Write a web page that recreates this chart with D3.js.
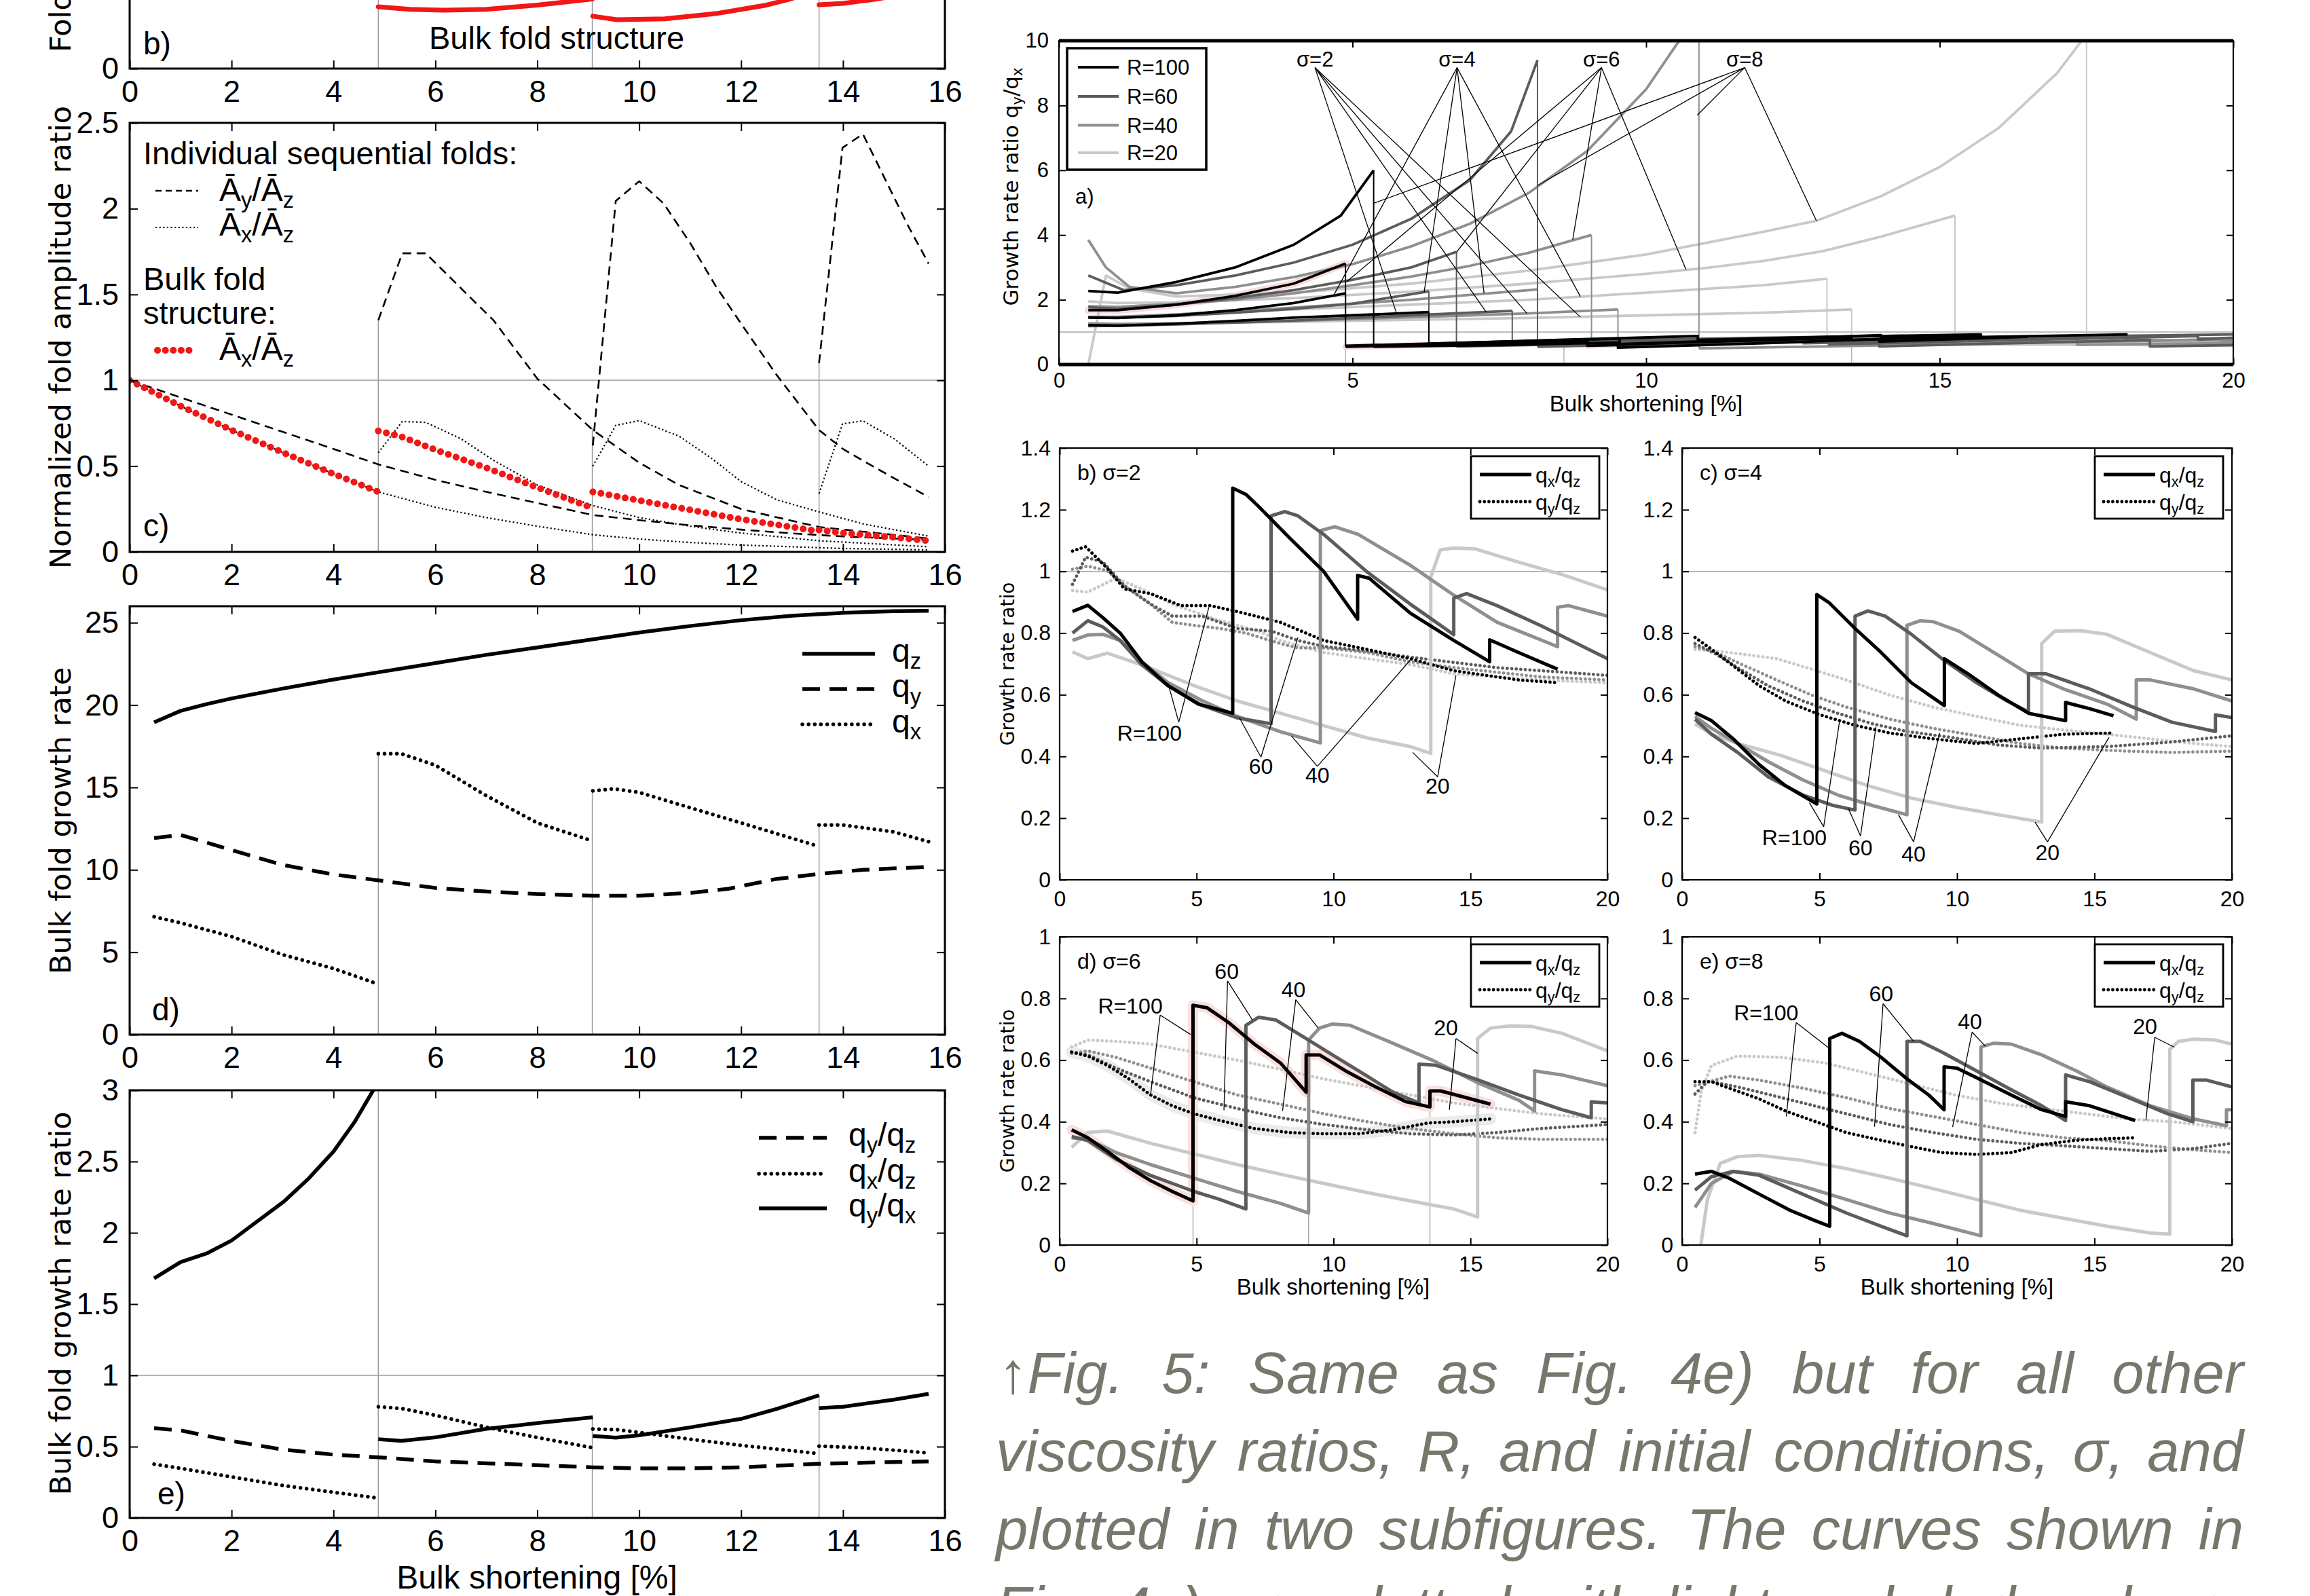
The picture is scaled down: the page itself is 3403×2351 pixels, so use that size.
<!DOCTYPE html>
<html>
<head>
<meta charset="utf-8">
<script src="https://cdn.jsdelivr.net/npm/d3@7"></script>
<style>
body { margin: 0; background: #fff; }
svg { display: block; }
</style>
</head>
<body>
<svg id="fig" width="3403" height="2351"></svg>
<script>
// ---------------- left column: sequential folds ----------------
var xTicksLeft = [0, 2, 4, 6, 8, 10, 12, 14, 16];
var foldX = [4.88, 9.08, 13.53];

// b) bulk fold structure (only the bottom of the panel is visible)
var bRed = [
  [[4.88,0.36],[5.5,0.345],[6.18,0.34],[7,0.345],[8,0.37],[9.08,0.405]],
  [[9.09,0.305],[9.56,0.285],[10.5,0.29],[11.5,0.32],[12.5,0.37],[12.96,0.405],[13.53,0.46]],
  [[13.53,0.372],[14,0.38],[14.66,0.405],[15.68,0.46]]
];

// c) normalized fold amplitude ratio
var cTicksY = [0, 0.5, 1, 1.5, 2, 2.5];
var cAyAz = [
  [[0,1],[1,0.9],[2,0.8],[3,0.7],[4,0.6],[4.88,0.51],[6,0.42],[7,0.35],[8,0.285],[9.09,0.215],[10,0.185],[11,0.155],[12,0.13],[13,0.108],[14,0.09],[15,0.078],[15.68,0.07]],
  [[4.88,1.35],[5.35,1.74],[5.81,1.74],[6.66,1.49],[7.14,1.35],[8,1.01],[9.09,0.71],[10,0.52],[10.78,0.39],[12,0.25],[13.53,0.145],[15.68,0.078]],
  [[9.09,0.62],[9.54,2.045],[10,2.16],[10.48,2.03],[11,1.8],[11.5,1.55],[12,1.33],[12.7,1.03],[13.53,0.71],[14,0.6],[14.4,0.53],[15,0.43],[15.68,0.32]],
  [[13.53,1.1],[13.99,2.355],[14.39,2.435],[14.78,2.2],[15.26,1.91],[15.68,1.68]]
];
var cAxAz = [
  [[0,1],[1,0.85],[2,0.71],[3,0.58],[4,0.455],[4.88,0.35],[6,0.26],[7,0.2],[8,0.15],[9.09,0.1],[10,0.075],[11,0.055],[12,0.04],[13,0.03],[14,0.02],[15.68,0.012]],
  [[4.88,0.578],[5.35,0.76],[5.81,0.755],[6.5,0.66],[7.14,0.534],[8,0.39],[9.09,0.27],[10,0.2],[11,0.15],[12,0.11],[13.53,0.065],[15.68,0.03]],
  [[9.09,0.5],[9.54,0.737],[10,0.765],[10.78,0.675],[11.4,0.55],[12,0.41],[12.7,0.304],[13.53,0.233],[14.4,0.163],[15.68,0.092]],
  [[13.53,0.34],[13.99,0.746],[14.39,0.764],[15,0.66],[15.68,0.5]]
];
var cBulkAxAz = [
  [[0,1],[1,0.85],[2,0.71],[3,0.58],[4,0.455],[4.88,0.35]],
  [[4.88,0.705],[5.3,0.675],[6,0.595],[7,0.49],[8,0.375],[9.09,0.255]],
  [[9.09,0.35],[10,0.3],[11,0.245],[12,0.19],[13,0.145],[13.53,0.12]],
  [[13.53,0.128],[14,0.11],[15,0.085],[15.68,0.065]]
];
var cGuideTop = [1.35, 0.72, 1.1];

// d) bulk fold growth rate
var dTicksY = [0, 5, 10, 15, 20, 25];
var dQz = [[0.48,18.95],[1,19.65],[1.5,20.05],[2,20.4],[3,21.0],[4,21.55],[5,22.05],[6,22.55],[7,23.05],[8,23.5],[9,23.95],[10,24.4],[11,24.8],[12,25.15],[13,25.42],[14,25.6],[15,25.7],[15.68,25.72]];
var dQy = [[0.48,11.93],[1,12.12],[2,11.2],[3,10.3],[4,9.72],[4.88,9.36],[6,8.9],[7,8.68],[8,8.53],[9.09,8.43],[10,8.43],[11,8.6],[11.75,8.85],[12.7,9.45],[13.53,9.75],[14.4,10.0],[15.68,10.18]];
var dQx = [
  [[0.48,7.15],[1,6.78],[2,5.95],[3,4.85],[4,4.01],[4.88,3.06]],
  [[4.88,17.05],[5.33,17.05],[6,16.35],[7,14.5],[8,12.85],[9.09,11.75]],
  [[9.09,14.79],[9.5,14.92],[10,14.7],[11,13.77],[12,12.85],[13.53,11.42]],
  [[13.53,12.72],[14,12.72],[15,12.3],[15.68,11.71]]
];
var dGuideTop = [17.05, 14.79, 12.72];

// e) bulk fold growth rate ratio
var eTicksY = [0, 0.5, 1, 1.5, 2, 2.5, 3];
var eQyQx = [
  [[0.48,1.68],[1,1.795],[1.51,1.855],[2,1.946],[2.54,2.09],[3.03,2.22],[3.51,2.38],[4,2.57],[4.42,2.78],[4.78,3.0],[4.88,3.06]],
  [[4.88,0.552],[5.33,0.54],[6,0.565],[7,0.625],[8,0.665],[9.09,0.706]],
  [[9.09,0.575],[9.54,0.563],[10,0.58],[11,0.635],[12,0.695],[12.7,0.765],[13.53,0.86]],
  [[13.53,0.77],[14,0.78],[15,0.83],[15.68,0.87]]
];
var eQyQz = [[0.48,0.63],[1,0.614],[2,0.54],[3,0.48],[4,0.444],[4.88,0.425],[6,0.397],[8,0.37],[9.09,0.355],[10,0.348],[11,0.348],[12,0.355],[13.53,0.38],[15.68,0.397]];
var eQxQz = [
  [[0.48,0.377],[1,0.348],[2,0.288],[3,0.228],[4,0.18],[4.88,0.139]],
  [[4.88,0.78],[5.33,0.768],[6,0.72],[7,0.636],[8,0.564],[9.09,0.492]],
  [[9.09,0.624],[9.57,0.619],[10,0.6],[11,0.552],[12,0.509],[13.53,0.451]],
  [[13.53,0.504],[14.4,0.492],[15.68,0.456]]
];
var eGuideTop = [3, 0.706, 0.86];

// ---------------- right column: all viscosity ratios R and sigma ----------------
var rValues = [100, 60, 40, 20];
var rColors = ["#000000", "#5c5c5c", "#8f8f8f", "#c9c9c9"];
var xTicksRight = [0, 5, 10, 15, 20];

// a) q_y/q_x, one curve per (sigma, R): before and after the first jump
var aTicksY = [0, 2, 4, 6, 8, 10];
var aCurves = [
  {s:2, R:20,  pre:[[0.5,1.27],[1,1.26],[2,1.28],[4,1.32],[6,1.38],[8,1.44],[10,1.52],[12,1.6],[13.5,1.7]], post:[[13.5,0.71],[14,0.63],[16,0.64],[18,0.67],[20,0.7]]},
  {s:4, R:20,  pre:[[0.5,1.48],[1,1.48],[2,1.55],[4,1.7],[6,1.85],[8,2.0],[10,2.22],[12,2.45],[13.08,2.65]], post:[[13.08,0.64],[13.6,0.6],[16,0.62],[20,0.66]]},
  {s:6, R:20,  pre:[[0.5,1.95],[1,1.9],[2,1.92],[4,2.05],[6,2.25],[8,2.5],[10,2.8],[11,2.98],[12,3.2],[13,3.5],[14,3.95],[15.26,4.6]], post:[[15.26,0.63],[17,0.61],[20,0.6]]},
  {s:8, R:20,  pre:[[0.5,0],[0.8,2.75],[1.2,2.35],[2,2.1],[4,2.22],[6,2.5],[8,2.9],[10,3.4],[12,4.1],[12.9,4.44],[14,5.2],[15,6.1],[16,7.3],[17,9.0],[17.5,10.2]], post:[[17.5,0.64],[18.5,0.6],[20,0.58]]},
  {s:2, R:40,  pre:[[0.5,1.27],[1,1.25],[2,1.27],[3,1.3],[4,1.35],[5,1.4],[6,1.46],[7,1.52],[8,1.58],[9.52,1.7]], post:[[9.52,0.67],[14,0.78],[18.18,0.87],[18.18,0.75],[20,0.76]]},
  {s:4, R:40,  pre:[[0.5,1.47],[1,1.47],[2,1.55],[3,1.65],[4,1.76],[5,1.88],[6,2.0],[7,2.15],[8.15,2.32]], post:[[8.15,0.56],[12,0.7],[16.55,0.85],[16.55,0.68],[20,0.77]]},
  {s:6, R:40,  pre:[[0.5,1.8],[1,1.78],[2,1.88],[3,2.0],[4,2.2],[5,2.45],[6,2.72],[7,3.05],[8,3.45],[9.07,4.0]], post:[[9.07,0.58],[13,0.7],[17.34,0.81],[17.34,0.61],[20,0.66]]},
  {s:8, R:40,  pre:[[0.5,3.85],[0.8,3.0],[1.2,2.4],[2,2.2],[3,2.4],[4,2.7],[5,3.1],[6,3.65],[7,4.35],[8,5.3],[9,6.6],[10,8.5],[10.6,10.1],[10.9,11]], post:[[10.9,0.5],[13,0.56],[15,0.62],[17,0.7],[19.8,0.78],[19.8,0.69],[20,0.69]]},
  {s:2, R:60,  pre:[[0.5,1.19],[1,1.2],[2,1.24],[3,1.3],[4,1.36],[5,1.44],[6,1.52],[7.72,1.66]], post:[[7.72,0.68],[11,0.8],[14.39,0.89],[14.39,0.77],[17,0.86],[20,0.93]]},
  {s:4, R:60,  pre:[[0.5,1.46],[1,1.45],[2,1.5],[3,1.6],[4,1.72],[5,1.88],[6.3,2.26]], post:[[6.3,0.6],[9.5,0.7],[12.68,0.81],[12.68,0.66],[16,0.78],[19.4,0.89],[19.4,0.8],[20,0.82]]},
  {s:6, R:60,  pre:[[0.5,1.77],[1,1.72],[2,1.85],[3,2.05],[4,2.3],[5,2.62],[6,3.0],[6.77,3.48]], post:[[6.77,0.56],[10,0.67],[13.12,0.79],[13.12,0.62],[16,0.74],[19.4,0.88],[19.4,0.77],[20,0.83]]},
  {s:8, R:60,  pre:[[0.5,2.75],[1.1,2.3],[2,2.45],[3,2.75],[4,3.15],[5,3.7],[6,4.5],[7,5.7],[7.7,7.2],[8.15,9.4]], post:[[8.15,0.55],[11,0.66],[13.97,0.78],[13.97,0.56],[16,0.65],[18.58,0.76],[18.58,0.56],[20,0.6]]},
  {s:2, R:100, pre:[[0.5,1.22],[1,1.2],[2,1.26],[3,1.35],[4,1.45],[5,1.52],[6.3,1.62]], post:[[6.3,0.64],[8.5,0.76],[10.88,0.88],[10.88,0.76],[13,0.85],[15.7,0.93],[15.7,0.85],[18.2,0.93]]},
  {s:4, R:100, pre:[[0.5,1.45],[1,1.44],[2,1.52],[3,1.68],[4,1.9],[4.88,2.2]], post:[[4.88,0.58],[7,0.68],[9.55,0.8],[9.55,0.63],[12,0.78],[14,0.91],[14,0.82],[15.7,0.89]]},
  {s:6, R:100, pre:[[0.5,1.68],[1,1.68],[2,1.85],[3,2.12],[4,2.5],[4.88,3.12]], post:[[4.88,0.55],[7,0.63],[9.0,0.72],[9.0,0.58],[11,0.7],[13.5,0.83],[13.5,0.76],[15.7,0.87]]},
  {s:8, R:100, pre:[[0.5,2.27],[1,2.22],[2,2.55],[3,3.0],[4,3.7],[4.8,4.6],[5.36,6.0]], post:[[5.36,0.55],[7.5,0.6],[9.52,0.68],[9.52,0.52],[12,0.66],[13.97,0.79],[13.97,0.71],[16.5,0.86]]}
];
var aGuides = [[4.88,0.55],[8.6,0.62],[13.5,0.6]];
var aSigmaNotes = [
  {text:"σ=2", fan:[4.36,9.17], to:[[5.75,1.58],[7.28,1.61],[7.97,1.58],[8.88,1.47]]},
  {text:"σ=4", fan:[6.78,9.17], to:[[4.68,2.14],[6.22,2.24],[7.24,2.2],[8.88,2.1]]},
  {text:"σ=6", fan:[9.24,9.17], to:[[4.9,2.56],[6.77,3.47],[8.75,3.86],[10.68,2.93]]},
  {text:"σ=8", fan:[11.68,9.17], to:[[5.36,4.98],[8.15,5.53],[10.87,7.7],[12.9,4.44]]}
];

// b) sigma = 2 ; arrays in the order of rValues
var bTicksY = [0, 0.2, 0.4, 0.6, 0.8, 1, 1.2, 1.4];
var bSolid = [
  [[0.47,0.87],[1.03,0.89],[1.58,0.85],[2.21,0.8],[3.0,0.707],[3.95,0.63],[5.06,0.57],[6.32,0.54],[6.32,1.27],[6.8,1.25],[7.27,1.21],[8.38,1.11],[9.64,1.0],[10.88,0.845],[10.88,0.987],[11.3,0.978],[12.8,0.865],[14.39,0.776],[15.7,0.707],[15.7,0.778],[16.76,0.737],[18.18,0.683]],
  [[0.47,0.8],[1.03,0.84],[1.58,0.82],[2.21,0.776],[3.0,0.697],[3.95,0.63],[5.22,0.565],[6.48,0.525],[7.72,0.506],[7.72,1.18],[8.22,1.194],[8.7,1.18],[9.64,1.12],[11.2,1.0],[12.8,0.894],[14.39,0.795],[14.39,0.914],[14.86,0.928],[15.97,0.889],[17.55,0.825],[20,0.717]],
  [[0.47,0.776],[1.03,0.794],[1.58,0.796],[2.21,0.776],[3.0,0.707],[3.95,0.64],[5.22,0.58],[6.48,0.53],[8.06,0.48],[9.52,0.444],[9.52,1.132],[10.04,1.145],[10.9,1.12],[12.8,1.02],[14.39,0.923],[15.97,0.835],[18.18,0.756],[18.18,0.884],[18.58,0.889],[20,0.855]],
  [[0.47,0.739],[1.03,0.717],[1.74,0.735],[3.0,0.697],[4.9,0.63],[6.48,0.58],[8.06,0.54],[9.64,0.5],[11.23,0.46],[12.8,0.432],[13.55,0.41],[13.55,0.982],[13.9,1.07],[14.39,1.076],[15.18,1.073],[16.76,1.03],[18.34,0.99],[20,0.94]]
];
var bDotted = [
  [[0.47,1.066],[0.95,1.08],[1.74,1.01],[2.37,0.943],[3.32,0.928],[4.43,0.889],[5.5,0.889],[6.48,0.87],[8.06,0.835],[9.64,0.776],[11.23,0.747],[12.8,0.717],[14.39,0.678],[16.76,0.648],[18.18,0.639]],
  [[0.47,0.958],[0.95,1.046],[1.58,1.03],[2.37,0.953],[3.32,0.894],[4.11,0.855],[5.22,0.855],[6.48,0.815],[7.75,0.806],[8.7,0.776],[9.64,0.757],[11.23,0.742],[12.8,0.722],[15.97,0.688],[20,0.663]],
  [[0.47,1.007],[1.03,1.017],[1.74,1.002],[2.37,0.953],[3.32,0.894],[4.11,0.835],[4.9,0.825],[5.85,0.815],[6.8,0.8],[8.06,0.766],[8.7,0.752],[9.64,0.752],[11.23,0.737],[12.8,0.707],[14.39,0.688],[17.55,0.658],[20,0.648]],
  [[0.47,0.938],[1.03,0.933],[2.06,0.978],[3.0,0.943],[4.11,0.894],[5.69,0.845],[7.27,0.806],[8.06,0.776],[9.64,0.737],[11.23,0.717],[12.8,0.698],[14.39,0.668],[17.55,0.648],[20,0.639]]
];
var bNotes = [
  {text:"R=100", anchor:"end", pos:[4.46,0.452], fan:[4.35,0.511], to:[[3.95,0.639],[5.45,0.884]]},
  {text:"60", anchor:"middle", pos:[7.35,0.344], fan:[7.35,0.398], to:[[6.56,0.526],[8.7,0.786]]},
  {text:"40", anchor:"middle", pos:[9.41,0.314], fan:[9.41,0.368], to:[[8.46,0.467],[12.8,0.712]]},
  {text:"20", anchor:"middle", pos:[13.8,0.28], fan:[13.8,0.334], to:[[12.89,0.413],[14.47,0.663]]}
];

// c) sigma = 4
var cSolid = [
  [[0.47,0.542],[1.07,0.516],[1.86,0.457],[2.81,0.373],[3.76,0.305],[4.9,0.246],[4.9,0.925],[5.34,0.899],[6.29,0.815],[7.24,0.737],[8.34,0.639],[9.54,0.565],[9.54,0.717],[10.4,0.668],[11.5,0.599],[12.6,0.54],[13.95,0.516],[13.95,0.575],[14.82,0.555],[15.69,0.532]],
  [[0.47,0.521],[1.07,0.472],[2.02,0.413],[3.13,0.334],[4.39,0.275],[5.5,0.241],[6.29,0.226],[6.29,0.855],[6.76,0.872],[7.39,0.855],[8.34,0.796],[9.45,0.717],[10.71,0.639],[11.82,0.58],[12.6,0.545],[12.6,0.668],[13.24,0.668],[14.82,0.619],[16.4,0.56],[17.82,0.511],[19.4,0.481],[19.4,0.535],[20,0.526]],
  [[0.47,0.53],[1.07,0.491],[2.02,0.442],[3.13,0.383],[4.39,0.324],[5.66,0.275],[6.92,0.241],[8.18,0.211],[8.18,0.825],[8.66,0.84],[9.13,0.837],[10.08,0.806],[11.34,0.737],[12.6,0.668],[13.87,0.619],[15.45,0.57],[16.52,0.521],[16.52,0.648],[17.03,0.648],[18.61,0.619],[20,0.58]],
  [[0.47,0.506],[1.07,0.472],[2.02,0.442],[3.6,0.403],[5.18,0.354],[6.76,0.305],[8.34,0.265],[9.92,0.236],[11.5,0.211],[13.08,0.187],[13.08,0.766],[13.55,0.806],[14.5,0.808],[15.45,0.796],[17.03,0.737],[18.61,0.678],[20,0.648]]
];
var cDotted = [
  [[0.47,0.786],[1.23,0.737],[2.02,0.683],[2.81,0.629],[3.76,0.58],[5.02,0.535],[6.29,0.501],[7.55,0.476],[9.13,0.457],[10.71,0.442],[12.29,0.457],[13.87,0.472],[15.69,0.476]],
  [[0.47,0.766],[1.23,0.732],[2.02,0.688],[3.13,0.629],[4.39,0.58],[5.66,0.54],[6.92,0.506],[8.18,0.481],[9.76,0.462],[11.5,0.437],[13.08,0.427],[15.45,0.432],[17.82,0.447],[20,0.467]],
  [[0.47,0.756],[1.23,0.737],[2.18,0.698],[3.44,0.648],[4.71,0.599],[5.97,0.56],[7.55,0.521],[9.13,0.491],[10.71,0.467],[12.29,0.442],[13.87,0.427],[16.24,0.417],[17.82,0.413],[20,0.417]],
  [[0.47,0.747],[1.23,0.742],[2.18,0.732],[3.44,0.717],[4.71,0.683],[5.97,0.648],[7.55,0.599],[9.13,0.56],[10.71,0.53],[12.29,0.501],[13.87,0.486],[15.45,0.472],[17.03,0.457],[18.61,0.442],[20,0.432]]
];
var cNotes = [
  {text:"R=100", anchor:"end", pos:[5.26,0.113], fan:[5.15,0.172], to:[[4.63,0.25],[5.73,0.516]]},
  {text:"60", anchor:"middle", pos:[6.49,0.079], fan:[6.49,0.142], to:[[6.05,0.231],[7.05,0.496]]},
  {text:"40", anchor:"middle", pos:[8.42,0.059], fan:[8.42,0.123], to:[[7.87,0.211],[9.37,0.476]]},
  {text:"20", anchor:"middle", pos:[13.29,0.064], fan:[13.29,0.123], to:[[12.84,0.187],[15.53,0.462]]}
];

// d) sigma = 6
var dTicksRight = [0, 0.2, 0.4, 0.6, 0.8, 1];
var dSolid = [
  [[0.44,0.374],[1.03,0.348],[1.74,0.304],[2.53,0.252],[3.32,0.209],[4.11,0.174],[4.87,0.143],[4.87,0.778],[5.38,0.77],[6.17,0.722],[7.11,0.652],[8.06,0.591],[9.0,0.496],[9.0,0.617],[9.49,0.617],[10.44,0.565],[11.54,0.513],[12.65,0.465],[13.52,0.448],[13.52,0.5],[13.91,0.5],[14.85,0.478],[15.73,0.457]],
  [[0.44,0.352],[1.03,0.339],[2.06,0.278],[3.32,0.226],[4.9,0.174],[5.85,0.148],[6.8,0.117],[6.8,0.713],[7.27,0.739],[7.9,0.73],[8.85,0.678],[9.96,0.617],[11.23,0.548],[12.17,0.496],[13.12,0.461],[13.12,0.587],[13.75,0.583],[15.18,0.539],[16.76,0.487],[18.34,0.439],[19.41,0.413],[19.41,0.465],[20,0.461]],
  [[0.44,0.348],[1.03,0.343],[2.06,0.3],[3.32,0.261],[4.9,0.217],[6.48,0.174],[8.06,0.135],[9.09,0.104],[9.09,0.665],[9.49,0.704],[9.96,0.717],[10.6,0.713],[12.0,0.661],[13.6,0.6],[15.18,0.53],[16.76,0.47],[17.34,0.435],[17.34,0.565],[18.34,0.552],[20,0.517]],
  [[0.44,0.317],[1.03,0.365],[1.74,0.37],[3.32,0.33],[4.9,0.296],[6.48,0.261],[8.06,0.23],[9.64,0.2],[11.23,0.17],[12.8,0.143],[14.39,0.117],[15.26,0.091],[15.26,0.67],[15.73,0.704],[16.45,0.711],[17.23,0.709],[18.34,0.687],[20,0.63]]
];
var dDotted = [
  [[0.44,0.626],[1.03,0.613],[1.74,0.583],[2.53,0.539],[3.32,0.487],[4.11,0.452],[4.9,0.426],[5.85,0.404],[7.11,0.378],[8.38,0.365],[9.64,0.361],[10.91,0.361],[12.17,0.374],[13.44,0.396],[14.39,0.4],[15.73,0.409]],
  [[0.44,0.626],[1.03,0.617],[2.06,0.574],[3.32,0.53],[4.9,0.478],[6.48,0.443],[8.06,0.413],[9.64,0.391],[11.23,0.374],[12.8,0.361],[14.39,0.357],[15.97,0.365],[17.55,0.378],[20,0.391]],
  [[0.44,0.622],[1.03,0.63],[2.06,0.609],[3.32,0.574],[4.9,0.53],[6.48,0.487],[8.06,0.457],[9.64,0.426],[11.23,0.4],[12.8,0.378],[14.39,0.361],[15.97,0.348],[17.55,0.343],[20,0.343]],
  [[0.44,0.643],[1.03,0.665],[2.06,0.661],[3.32,0.652],[4.9,0.626],[6.48,0.6],[8.06,0.57],[9.64,0.539],[11.23,0.513],[12.8,0.487],[14.39,0.461],[15.97,0.443],[17.55,0.426],[20,0.409]]
];
var dGuides = [[4.87,0.143],[9.09,0.104],[13.52,0.448]];
var dNotes = [
  {text:"R=100", anchor:"end", pos:[3.76,0.752], fan:[3.67,0.746], to:[[4.78,0.683],[3.32,0.487]]},
  {text:"60", anchor:"middle", pos:[6.1,0.863], fan:[6.13,0.857], to:[[7.04,0.73],[6.0,0.437]]},
  {text:"40", anchor:"middle", pos:[8.54,0.804], fan:[8.62,0.796], to:[[9.44,0.704],[8.14,0.435]]},
  {text:"20", anchor:"middle", pos:[14.1,0.68], fan:[14.47,0.67], to:[[15.26,0.622],[14.23,0.439]]}
];

// e) sigma = 8
var eSolid = [
  [[0.47,0.23],[1.07,0.239],[1.71,0.217],[2.81,0.165],[3.92,0.113],[4.87,0.078],[5.37,0.061],[5.37,0.67],[5.81,0.687],[6.45,0.661],[7.24,0.609],[8.18,0.539],[8.97,0.487],[9.53,0.439],[9.53,0.578],[10.0,0.574],[10.71,0.543],[11.97,0.487],[13.08,0.439],[13.95,0.417],[13.95,0.465],[14.82,0.452],[16.48,0.404]],
  [[0.47,0.178],[1.07,0.222],[1.86,0.239],[2.81,0.226],[4.39,0.165],[5.97,0.104],[7.24,0.061],[8.18,0.03],[8.18,0.661],[8.66,0.661],[9.45,0.626],[10.71,0.565],[11.97,0.504],[13.08,0.452],[13.95,0.404],[13.95,0.552],[14.82,0.53],[16.24,0.478],[17.66,0.426],[18.58,0.4],[18.58,0.535],[19.08,0.535],[20,0.513]],
  [[0.47,0.122],[1.07,0.2],[1.86,0.239],[2.81,0.23],[4.39,0.191],[5.97,0.148],[7.55,0.104],[9.13,0.07],[10.87,0.03],[10.87,0.643],[11.34,0.655],[11.97,0.652],[13.08,0.617],[14.34,0.565],[15.45,0.513],[17.03,0.452],[18.61,0.409],[19.8,0.387],[19.8,0.439],[20,0.439]],
  [[0.68,0],[0.92,0.148],[1.39,0.265],[2.02,0.287],[2.81,0.291],[4.39,0.274],[5.97,0.248],[7.55,0.217],[9.13,0.183],[10.71,0.148],[12.29,0.113],[13.87,0.087],[15.45,0.061],[17.03,0.039],[17.74,0.035],[17.74,0.635],[18.06,0.661],[18.61,0.668],[19.4,0.665],[20,0.652]]
];
var eDotted = [
  [[0.47,0.53],[1.07,0.53],[1.86,0.504],[2.81,0.474],[3.76,0.435],[4.87,0.4],[5.97,0.365],[7.08,0.343],[8.18,0.322],[9.45,0.3],[10.71,0.294],[11.97,0.3],[13.08,0.326],[14.34,0.34],[15.45,0.345],[16.48,0.348]],
  [[0.47,0.49],[0.92,0.53],[1.07,0.53],[2.02,0.513],[2.81,0.496],[4.39,0.461],[5.97,0.426],[7.55,0.391],[9.13,0.365],[10.71,0.343],[12.29,0.33],[13.87,0.322],[15.45,0.313],[17.03,0.304],[18.61,0.313],[20,0.33]],
  [[0.47,0.517],[1.71,0.548],[2.81,0.535],[4.39,0.509],[5.97,0.478],[7.55,0.443],[9.13,0.417],[10.71,0.391],[12.29,0.365],[13.87,0.348],[15.45,0.339],[17.03,0.322],[18.61,0.309],[20,0.3]],
  [[0.47,0.365],[0.7,0.5],[1.07,0.583],[2.02,0.613],[3.6,0.609],[5.18,0.591],[6.76,0.557],[8.34,0.522],[9.92,0.487],[11.5,0.461],[13.08,0.443],[14.66,0.426],[16.24,0.409],[17.82,0.4],[20,0.378]]
];
var eNotes = [
  {text:"R=100", anchor:"end", pos:[4.23,0.73], fan:[4.15,0.722], to:[[5.37,0.637],[3.79,0.417]]},
  {text:"60", anchor:"middle", pos:[7.24,0.791], fan:[7.31,0.783], to:[[8.42,0.661],[7.0,0.384]]},
  {text:"40", anchor:"middle", pos:[10.47,0.7], fan:[10.55,0.691], to:[[11.03,0.645],[9.84,0.383]]},
  {text:"20", anchor:"middle", pos:[16.84,0.685], fan:[17.19,0.674], to:[[17.9,0.642],[16.87,0.404]]}
];

var captionLines = [
  "↑Fig. 5: Same as Fig. 4e) but for all other",
  "viscosity ratios, R, and initial conditions, σ, and",
  "plotted in two subfigures. The curves shown in",
  "Fig. 4e) are plotted with light and dark colours"
];

// ---------------- drawing ----------------
var FONT = '"Liberation Sans", Arial, sans-serif';
var TFONT = '"DejaVu Sans", Verdana, sans-serif';
var svg = d3.select("#fig");
var clipCount = 0;

function makePanel(o) {
  var x = d3.scaleLinear().domain(o.xd).range([o.x0, o.x1]);
  var y = d3.scaleLinear().domain(o.yd).range([o.y1, o.y0]);
  var g = svg.append("g");
  var id = "clip" + (clipCount++);
  g.append("clipPath").attr("id", id).append("rect")
    .attr("x", o.x0).attr("y", o.y0).attr("width", o.x1 - o.x0).attr("height", o.y1 - o.y0);
  var plot = g.append("g").attr("clip-path", "url(#" + id + ")");
  var axes = g.append("g");
  var fmt = d3.format("~g");
  var style = function(a) {
    a.select(".domain").remove();
    a.selectAll("line").attr("stroke", "#000").attr("stroke-width", o.tw);
    a.selectAll("text").attr("font-size", o.fs).attr("fill", "#000").attr("font-family", FONT);
  };
  axes.append("g").attr("transform", "translate(0," + o.y1 + ")")
    .call(d3.axisBottom(x).tickValues(o.xt).tickSizeInner(-o.tl).tickSizeOuter(0).tickPadding(o.xp).tickFormat(fmt)).call(style);
  axes.append("g").attr("transform", "translate(0," + o.y0 + ")")
    .call(d3.axisTop(x).tickValues(o.xt).tickSizeInner(-o.tl).tickSizeOuter(0).tickFormat("")).call(style);
  axes.append("g").attr("transform", "translate(" + o.x0 + ",0)")
    .call(d3.axisLeft(y).tickValues(o.yt).tickSizeInner(-o.tl).tickSizeOuter(0).tickPadding(o.yp).tickFormat(fmt)).call(style);
  axes.append("g").attr("transform", "translate(" + o.x1 + ",0)")
    .call(d3.axisRight(y).tickValues(o.yt).tickSizeInner(-o.tl).tickSizeOuter(0).tickFormat("")).call(style);
  axes.append("rect").attr("x", o.x0).attr("y", o.y0).attr("width", o.x1 - o.x0).attr("height", o.y1 - o.y0)
    .attr("fill", "none").attr("stroke", "#000").attr("stroke-width", o.fw);
  var line = d3.line().x(function(d) { return x(d[0]); }).y(function(d) { return y(d[1]); });
  return {x: x, y: y, g: g, plot: plot, line: line, o: o};
}

function path(layer, p, pts, st) {
  return layer.append("path").attr("d", p.line(pts)).attr("fill", "none")
    .attr("stroke", st.c).attr("stroke-width", st.w)
    .attr("stroke-dasharray", st.d || null)
    .attr("stroke-linecap", st.cap || "butt").attr("stroke-linejoin", "round");
}

function vline(p, xv, y0v, y1v, c, w) {
  p.plot.append("line").attr("x1", p.x(xv)).attr("x2", p.x(xv)).attr("y1", p.y(y0v)).attr("y2", p.y(y1v))
    .attr("stroke", c).attr("stroke-width", w);
}

function hline(p, yv, c, w) {
  p.plot.append("line").attr("x1", p.o.x0).attr("x2", p.o.x1).attr("y1", p.y(yv)).attr("y2", p.y(yv))
    .attr("stroke", c).attr("stroke-width", w);
}

// parts: strings, or {s:"x"} for subscripts
function richText(g, x, y, parts, fs, anchor) {
  var t = g.append("text").attr("x", x).attr("y", y).attr("font-size", fs)
    .attr("font-family", FONT).attr("text-anchor", anchor || "start").attr("fill", "#000");
  var sh = fs * 0.2, down = false;
  parts.forEach(function(pt) {
    if (typeof pt === "string") {
      t.append("tspan").attr("dy", down ? -sh : 0).text(pt);
      down = false;
    } else {
      t.append("tspan").attr("font-size", fs * 0.68).attr("dy", down ? 0 : sh).text(pt.s);
      down = true;
    }
  });
  return t;
}

function label(g, x, y, txt, fs, anchor, font) {
  return g.append("text").attr("x", x).attr("y", y).attr("font-size", fs)
    .attr("font-family", font || FONT).attr("text-anchor", anchor || "start").attr("fill", "#000").text(txt);
}

function yTitle(x, y, parts, fs, anchor) {
  var t = svg.append("text").attr("transform", "translate(" + x + "," + y + ") rotate(-90)")
    .attr("font-size", fs).attr("font-family", TFONT).attr("text-anchor", anchor || "middle").attr("fill", "#000");
  var sh = fs * 0.2, down = false;
  parts.forEach(function(pt) {
    if (typeof pt === "string") { t.append("tspan").attr("dy", down ? -sh : 0).text(pt); down = false; }
    else { t.append("tspan").attr("font-size", fs * 0.68).attr("dy", down ? 0 : sh).text(pt.s); down = true; }
  });
}

// ---- styles
var S = {
  red: {c: "#f21616", w: 7, cap: "round"},
  redDots: {c: "#f21616", w: 10, d: "0.1 12", cap: "round"},
  thinDash: {c: "#000", w: 2.6, d: "13 8"},
  thinDot: {c: "#000", w: 2.2, d: "2.2 3.4"},
  solid: {c: "#000", w: 5.5},
  thickDash: {c: "#000", w: 5.5, d: "26 14"},
  thickDot: {c: "#000", w: 5.5, d: "0.1 9", cap: "round"}
};

var L = {x0: 191, x1: 1392, xd: [0, 16], xt: xTicksLeft, tl: 12, tw: 2, fw: 3, fs: 45, xp: 17, yp: 16};

// ---- left b)
var pLB = makePanel(Object.assign({}, L, {y0: -531, y1: 101, yd: [0, 2.5], yt: cTicksY}));
foldX.forEach(function(fx) { vline(pLB, fx, 0, 2.5, "#9a9a9a", 1.5); });
bRed.forEach(function(seg) { path(pLB.plot, pLB, seg, S.red); });
label(pLB.g, 211, 80, "b)", 46);
label(pLB.g, 632, 72, "Bulk fold structure", 47);
yTitle(104, 77, ["Fold amplitude"], 43, "start");

// ---- left c)
var pLC = makePanel(Object.assign({}, L, {y0: 181, y1: 813, yd: [0, 2.5], yt: cTicksY}));
hline(pLC, 1, "#b5b5b5", 2.2);
foldX.forEach(function(fx, i) { vline(pLC, fx, 0, cGuideTop[i], "#9a9a9a", 1.5); });
cAxAz.forEach(function(seg) { path(pLC.plot, pLC, seg, S.thinDot); });
cAyAz.forEach(function(seg) { path(pLC.plot, pLC, seg, S.thinDash); });
cBulkAxAz.forEach(function(seg) { path(pLC.plot, pLC, seg, S.redDots); });
label(pLC.g, 211, 242, "Individual sequential folds:", 47);
pLC.g.append("line").attr("x1", 229).attr("x2", 292).attr("y1", 281).attr("y2", 281).attr("stroke", "#000").attr("stroke-width", 2.6).attr("stroke-dasharray", "9 6");
richText(pLC.g, 323, 296, ["Ā", {s: "y"}, "/Ā", {s: "z"}], 48);
pLC.g.append("line").attr("x1", 229).attr("x2", 292).attr("y1", 335).attr("y2", 335).attr("stroke", "#000").attr("stroke-width", 2.2).attr("stroke-dasharray", "2.2 3.4");
richText(pLC.g, 323, 347, ["Ā", {s: "x"}, "/Ā", {s: "z"}], 48);
label(pLC.g, 211, 427, "Bulk fold", 47);
label(pLC.g, 211, 477, "structure:", 47);
pLC.g.append("line").attr("x1", 232).attr("x2", 290).attr("y1", 516).attr("y2", 516).attr("stroke", "#f21616").attr("stroke-width", 10).attr("stroke-dasharray", "0.1 11.5").attr("stroke-linecap", "round");
richText(pLC.g, 323, 530, ["Ā", {s: "x"}, "/Ā", {s: "z"}], 48);
label(pLC.g, 211, 790, "c)", 46);
yTitle(104, 497, ["Normalized fold amplitude ratio"], 43);

// ---- left d)
var pLD = makePanel(Object.assign({}, L, {y0: 893, y1: 1524, yd: [0, 26], yt: dTicksY}));
foldX.forEach(function(fx, i) { vline(pLD, fx, 0, dGuideTop[i], "#9a9a9a", 1.5); });
path(pLD.plot, pLD, dQz, S.solid);
path(pLD.plot, pLD, dQy, S.thickDash);
dQx.forEach(function(seg) { path(pLD.plot, pLD, seg, S.thickDot); });
[[963, S.solid, "z"], [1015, S.thickDash, "y"], [1067, S.thickDot, "x"]].forEach(function(e) {
  pLD.g.append("line").attr("x1", 1182).attr("x2", 1289).attr("y1", e[0]).attr("y2", e[0])
    .attr("stroke", "#000").attr("stroke-width", e[1].w).attr("stroke-dasharray", e[1].d || null)
    .attr("stroke-linecap", e[1].cap || "butt");
  richText(pLD.g, 1314, e[0] + 12, ["q", {s: e[2]}], 48);
});
label(pLD.g, 224, 1503, "d)", 46);
yTitle(104, 1209, ["Bulk fold growth rate"], 43);

// ---- left e)
var pLE = makePanel(Object.assign({}, L, {y0: 1606, y1: 2236, yd: [0, 3], yt: eTicksY}));
hline(pLE, 1, "#b5b5b5", 2.2);
foldX.forEach(function(fx, i) { vline(pLE, fx, 0, eGuideTop[i], "#9a9a9a", 1.5); });
path(pLE.plot, pLE, eQyQz, S.thickDash);
eQxQz.forEach(function(seg) { path(pLE.plot, pLE, seg, S.thickDot); });
eQyQx.forEach(function(seg) { path(pLE.plot, pLE, seg, S.solid); });
[[1676, S.thickDash, ["q", {s: "y"}, "/q", {s: "z"}]], [1729, S.thickDot, ["q", {s: "x"}, "/q", {s: "z"}]], [1780, S.solid, ["q", {s: "y"}, "/q", {s: "x"}]]].forEach(function(e) {
  pLE.g.append("line").attr("x1", 1118).attr("x2", 1218).attr("y1", e[0]).attr("y2", e[0])
    .attr("stroke", "#000").attr("stroke-width", e[1].w).attr("stroke-dasharray", e[1].d || null)
    .attr("stroke-linecap", e[1].cap || "butt");
  richText(pLE.g, 1250, e[0] + 12, e[2], 48);
});
label(pLE.g, 232, 2216, "e)", 46);
label(svg, 791, 2340, "Bulk shortening [%]", 48, "middle");
yTitle(104, 1920, ["Bulk fold growth rate ratio"], 43);

// ---------------- right column ----------------
var RP = {xd: [0, 20], xt: xTicksRight, tl: 10, tw: 2, fw: 2.2, fs: 32, xp: 16, yp: 13};

// ---- a)
var pA = makePanel(Object.assign({}, RP, {x0: 1560, x1: 3290, y0: 60, y1: 537, yd: [0, 10], yt: aTicksY, fs: 31, xp: 12, yp: 15}));
pA.g.append("line").attr("x1", 1560).attr("x2", 3290).attr("y1", 60).attr("y2", 60).attr("stroke", "#000").attr("stroke-width", 5);
pA.g.append("line").attr("x1", 1560).attr("x2", 3290).attr("y1", 537).attr("y2", 537).attr("stroke", "#000").attr("stroke-width", 5);
hline(pA, 1, "#c4c4c4", 2.5);
aGuides.forEach(function(gd) { vline(pA, gd[0], 0, gd[1], "#b8b8b8", 1.5); });
// faint halo behind the sigma=6, R=100 curve
aCurves.filter(function(c) { return c.s === 6 && c.R === 100; }).forEach(function(c) {
  path(pA.plot, pA, c.pre, {c: "#fbdada", w: 11, cap: "round"});
  path(pA.plot, pA, c.post, {c: "#fbdada", w: 9, cap: "round"});
});
aCurves.forEach(function(c) {
  var col = rColors[rValues.indexOf(c.R)];
  var last = c.pre[c.pre.length - 1], first = c.post[0];
  vline(pA, first[0], last[1], first[1], col, 2);
  path(pA.plot, pA, c.pre, {c: col, w: 3.8});
  path(pA.plot, pA, c.post, {c: col, w: 3.8});
});
aSigmaNotes.forEach(function(n) {
  var fx = pA.x(n.fan[0]), fy = pA.y(n.fan[1]);
  n.to.forEach(function(t) {
    pA.g.append("line").attr("x1", fx).attr("y1", fy).attr("x2", pA.x(t[0])).attr("y2", pA.y(t[1]))
      .attr("stroke", "#000").attr("stroke-width", 1.3);
  });
  label(pA.g, fx, fy - 2, n.text, 31, "middle");
});
pA.g.append("rect").attr("x", 1572).attr("y", 71).attr("width", 205).attr("height", 179)
  .attr("fill", "#fff").attr("stroke", "#000").attr("stroke-width", 3.5);
[99, 142, 184.5, 225].forEach(function(ly, i) {
  pA.g.append("line").attr("x1", 1588).attr("x2", 1648).attr("y1", ly).attr("y2", ly)
    .attr("stroke", rColors[i]).attr("stroke-width", 3.8);
  label(pA.g, 1660, ly + 11, "R=" + rValues[i], 31);
});
label(pA.g, 1584, 300, "a)", 31);
label(svg, 2425, 606, "Bulk shortening [%]", 33, "middle");
yTitle(1500, 275, ["Growth rate ratio q", {s: "y"}, "/q", {s: "x"}], 31);

// ---- b) .. e)
var dotStyle = function(col) { return {c: col, w: 4.8, d: "0.1 6.6", cap: "round"}; };
function ratioPanel(opts, solid, dotted, notes, tag, legendX, legendY, extra) {
  var p = makePanel(Object.assign({}, RP, opts));
  if (opts.yd[1] > 1) hline(p, 1, "#a8a8a8", 1.6);
  if (extra) extra(p);
  for (var i = rValues.length - 1; i >= 0; i--) {
    path(p.plot, p, dotted[i], dotStyle(rColors[i]));
  }
  for (var j = rValues.length - 1; j >= 0; j--) {
    path(p.plot, p, solid[j], {c: rColors[j], w: 5});
  }
  notes.forEach(function(n) {
    var fx = p.x(n.fan[0]), fy = p.y(n.fan[1]);
    n.to.forEach(function(t) {
      p.g.append("line").attr("x1", fx).attr("y1", fy).attr("x2", p.x(t[0])).attr("y2", p.y(t[1]))
        .attr("stroke", "#000").attr("stroke-width", 1.3);
    });
    label(p.g, p.x(n.pos[0]), p.y(n.pos[1]), n.text, 32, n.anchor);
  });
  p.g.append("rect").attr("x", legendX).attr("y", legendY).attr("width", 189).attr("height", 92)
    .attr("fill", "#fff").attr("stroke", "#000").attr("stroke-width", 2.8);
  p.g.append("line").attr("x1", legendX + 13).attr("x2", legendX + 89).attr("y1", legendY + 27).attr("y2", legendY + 27)
    .attr("stroke", "#000").attr("stroke-width", 5);
  p.g.append("line").attr("x1", legendX + 13).attr("x2", legendX + 89).attr("y1", legendY + 67).attr("y2", legendY + 67)
    .attr("stroke", "#000").attr("stroke-width", 4.8).attr("stroke-dasharray", "0.1 6.6").attr("stroke-linecap", "round");
  richText(p.g, legendX + 95, legendY + 39, ["q", {s: "x"}, "/q", {s: "z"}], 32);
  richText(p.g, legendX + 95, legendY + 79, ["q", {s: "y"}, "/q", {s: "z"}], 32);
  richText(p.g, opts.x0 + 26, opts.y0 + 47, tag, 32);
  return p;
}

ratioPanel({x0: 1561, x1: 2368, y0: 660, y1: 1296, yd: [0, 1.4], yt: bTicksY}, bSolid, bDotted, bNotes, ["b) σ=2"], 2167, 672);
ratioPanel({x0: 2478, x1: 3288, y0: 660, y1: 1296, yd: [0, 1.4], yt: bTicksY}, cSolid, cDotted, cNotes, ["c) σ=4"], 3086, 672);
ratioPanel({x0: 1561, x1: 2368, y0: 1380, y1: 1834, yd: [0, 1], yt: dTicksRight}, dSolid, dDotted, dNotes, ["d) σ=6"], 2167, 1391,
  function(p) {
    dGuides.forEach(function(gd) { vline(p, gd[0], 0, gd[1], "#a8a8a8", 1.4); });
    path(p.plot, p, dDotted[0], {c: "#ebebeb", w: 17, cap: "round"});
    path(p.plot, p, dSolid[0], {c: "#fbdede", w: 15, cap: "round"});
  });
ratioPanel({x0: 2478, x1: 3288, y0: 1380, y1: 1834, yd: [0, 1], yt: dTicksRight}, eSolid, eDotted, eNotes, ["e) σ=8"], 3086, 1391);

yTitle(1494, 978, ["Growth rate ratio"], 28);
yTitle(1494, 1607, ["Growth rate ratio"], 28);
label(svg, 1964, 1907, "Bulk shortening [%]", 33, "middle");
label(svg, 2883, 1907, "Bulk shortening [%]", 33, "middle");

// ---------------- caption (justified lines) ----------------
function justifyLine(txt, x0, x1, yb, fs, sx) {
  var words = txt.split(" ");
  var t = svg.append("text").attr("y", yb).attr("font-size", fs).attr("font-style", "italic")
    .attr("font-family", FONT).attr("fill", "#76786b");
  var spans = words.map(function(w) { return t.append("tspan").text(w); });
  var ws = spans.map(function(s) { return s.node().getComputedTextLength(); });
  var total = d3.sum(ws), W = x1 - x0, minGap = fs * 0.2, n = words.length;
  var s = sx, gap;
  if ((total + minGap * (n - 1)) * s > W) { s = W / (total + minGap * (n - 1)); gap = minGap; }
  else { gap = (W / s - total) / (n - 1); }
  var cx = 0;
  spans.forEach(function(sp, i) { sp.attr("x", cx); cx += ws[i] + gap; });
  t.attr("transform", "translate(" + x0 + ",0) scale(" + s + ",1)");
}
captionLines.forEach(function(line, i) {
  justifyLine(line, i === 0 ? 1471 : 1467, 3305, 2052 + i * 115, 85, 1);
});
</script>
</body>
</html>
